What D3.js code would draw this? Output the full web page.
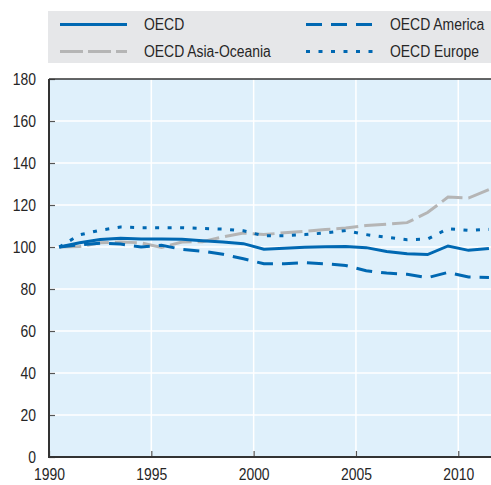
<!DOCTYPE html>
<html>
<head>
<meta charset="utf-8">
<script src="https://cdn.jsdelivr.net/npm/d3@7"></script>
<style>
  body { margin: 0; background: #fff; }
  text { font-family: "Liberation Sans", Arial, sans-serif; fill: #262626; }
</style>
</head>
<body>
<div id="chart"></div>
<script>
// data (index, 1990 = 100)
var years = [1990, 1991, 1992, 1993, 1994, 1995, 1996, 1997, 1998, 1999, 2000,
  2001, 2002, 2003, 2004, 2005, 2006, 2007, 2008, 2009, 2010, 2011];
var oecd = [100, 102, 103.6, 104.2, 103.8, 103.8, 103.7, 103, 102.4, 101.6, 98.9,
  99.4, 99.9, 100.1, 100.2, 99.7, 97.9, 96.8, 96.4, 100.5, 98.4, 99.3];
var oecdAmerica = [100, 101, 101.8, 101.4, 100, 100.8, 98.9, 98, 96.5, 94.4, 92,
  92, 92.5, 92, 91.2, 88.7, 87.6, 87, 85.4, 87.9, 85.7, 85.5];
var oecdAsia = [100, 100.2, 102, 102.4, 102, 99.8, 102.4, 102.5, 104.8, 106.7, 105.9,
  106.8, 107.5, 108.3, 109, 110.2, 110.9, 111.6, 116.4, 123.8, 123.3, 127.3];
var oecdEurope = [100, 105.8, 108, 109.5, 109.2, 109.2, 109.2, 108.8, 108.5, 107.7, 105.3,
  105.4, 105.9, 106.7, 107.8, 105.9, 104.6, 103.5, 103.8, 108.7, 107.9, 108.4];
var yTicks = [0, 20, 40, 60, 80, 100, 120, 140, 160, 180];
var xTicks = [1990, 1995, 2000, 2005, 2010];

var width = 491;
var height = 485;
var blue = "#0068b2";
var grey = "#b5b5b5";
var squeeze = 0.87; // reference uses a condensed face

var series = [
  { name: "OECD Asia-Oceania", values: oecdAsia, color: grey, dash: "22,6" },
  { name: "OECD America", values: oecdAmerica, color: blue, dash: "16,9" },
  { name: "OECD Europe", values: oecdEurope, color: blue, dash: "4,8.5" },
  { name: "OECD", values: oecd, color: blue, dash: null }
];

var svg = d3.select("#chart").append("svg")
  .attr("width", width)
  .attr("height", height);

var plotLeft = 49, plotRight = 491, plotTop = 79, plotBottom = 457;

var xScale = d3.scaleLinear().domain([1990, 2011.6]).range([plotLeft, plotRight]);
var yScale = d3.scaleLinear().domain([0, 180]).range([plotBottom, plotTop]);

// legend box
var legend = svg.append("g");
legend.append("rect")
  .attr("x", 48).attr("y", 11)
  .attr("width", width - 48).attr("height", 52)
  .attr("fill", "#e6e7e9");

var legendItems = [
  { s: series[3], x: 60, y: 24.5 },
  { s: series[1], x: 306, y: 24.5 },
  { s: series[0], x: 60, y: 51.5 },
  { s: series[2], x: 306, y: 51.5 }
];
legendItems.forEach(function(d) {
  legend.append("line")
    .attr("x1", d.x).attr("x2", d.x + 67)
    .attr("y1", d.y).attr("y2", d.y)
    .attr("stroke", d.s.color)
    .attr("stroke-width", 3)
    .attr("stroke-dasharray", d.s.name == "OECD Asia-Oceania" ? "23,5" : d.s.dash);
  legend.append("text")
    .attr("transform", "translate(" + (d.x + 84) + "," + d.y + ") scale(" + squeeze + ",1)")
    .attr("dy", "0.36em")
    .attr("font-size", 16)
    .text(d.s.name);
});

// plot background
svg.append("rect")
  .attr("x", plotLeft).attr("y", plotTop)
  .attr("width", plotRight - plotLeft).attr("height", plotBottom - plotTop)
  .attr("fill", "#dff0fb");

// grid
svg.append("g").selectAll("line.h")
  .data(yTicks.filter(function(t) { return t > 0 && t < 180; }))
  .enter().append("line")
  .attr("x1", plotLeft).attr("x2", plotRight)
  .attr("y1", function(d) { return yScale(d); })
  .attr("y2", function(d) { return yScale(d); })
  .attr("stroke", "#fff").attr("stroke-width", 1.5);

svg.append("g").selectAll("line.v")
  .data(xTicks.filter(function(t) { return t > 1990; }))
  .enter().append("line")
  .attr("x1", function(d) { return xScale(d); })
  .attr("x2", function(d) { return xScale(d); })
  .attr("y1", plotTop).attr("y2", plotBottom)
  .attr("stroke", "#fff").attr("stroke-width", 1.5);

// axes
var yAxis = d3.axisLeft(yScale).tickValues(yTicks).tickSize(-6).tickPadding(13);
var xAxis = d3.axisBottom(xScale).tickValues(xTicks).tickSize(-6).tickPadding(12)
  .tickFormat(d3.format("d"));

var gy = svg.append("g")
  .attr("transform", "translate(" + plotLeft + ",0)")
  .call(yAxis);
var gx = svg.append("g")
  .attr("transform", "translate(0," + plotBottom + ")")
  .call(xAxis);

[gx, gy].forEach(function(g) {
  g.select(".domain").remove();
  g.selectAll(".tick line").attr("stroke", "#555").attr("stroke-width", 1.2);
  g.selectAll("text")
    .attr("font-size", 16)
    .attr("font-family", "Liberation Sans, Arial, sans-serif")
    .attr("fill", "#262626")
    .attr("transform", "scale(" + squeeze + ",1)");
});
gy.selectAll("text").attr("x", -13 / squeeze);

// lines
var line = d3.line()
  .x(function(d) { return xScale(d.year + 0.5); })
  .y(function(d) { return yScale(d.value); });

series.forEach(function(s) {
  var pts = years.map(function(y, i) { return { year: y, value: s.values[i] }; });
  svg.append("path")
    .datum(pts)
    .attr("d", line)
    .attr("fill", "none")
    .attr("stroke", s.color)
    .attr("stroke-width", 3)
    .attr("stroke-dasharray", s.dash);
});

// frame lines
svg.append("line")
  .attr("x1", plotLeft).attr("x2", plotRight)
  .attr("y1", plotTop).attr("y2", plotTop)
  .attr("stroke", "#333").attr("stroke-width", 1.5);
svg.append("line")
  .attr("x1", plotLeft).attr("x2", plotLeft)
  .attr("y1", plotTop).attr("y2", plotBottom + 1)
  .attr("stroke", "#333").attr("stroke-width", 2);
svg.append("line")
  .attr("x1", plotLeft - 1).attr("x2", plotRight)
  .attr("y1", plotBottom).attr("y2", plotBottom)
  .attr("stroke", "#333").attr("stroke-width", 2);
</script>
</body>
</html>
